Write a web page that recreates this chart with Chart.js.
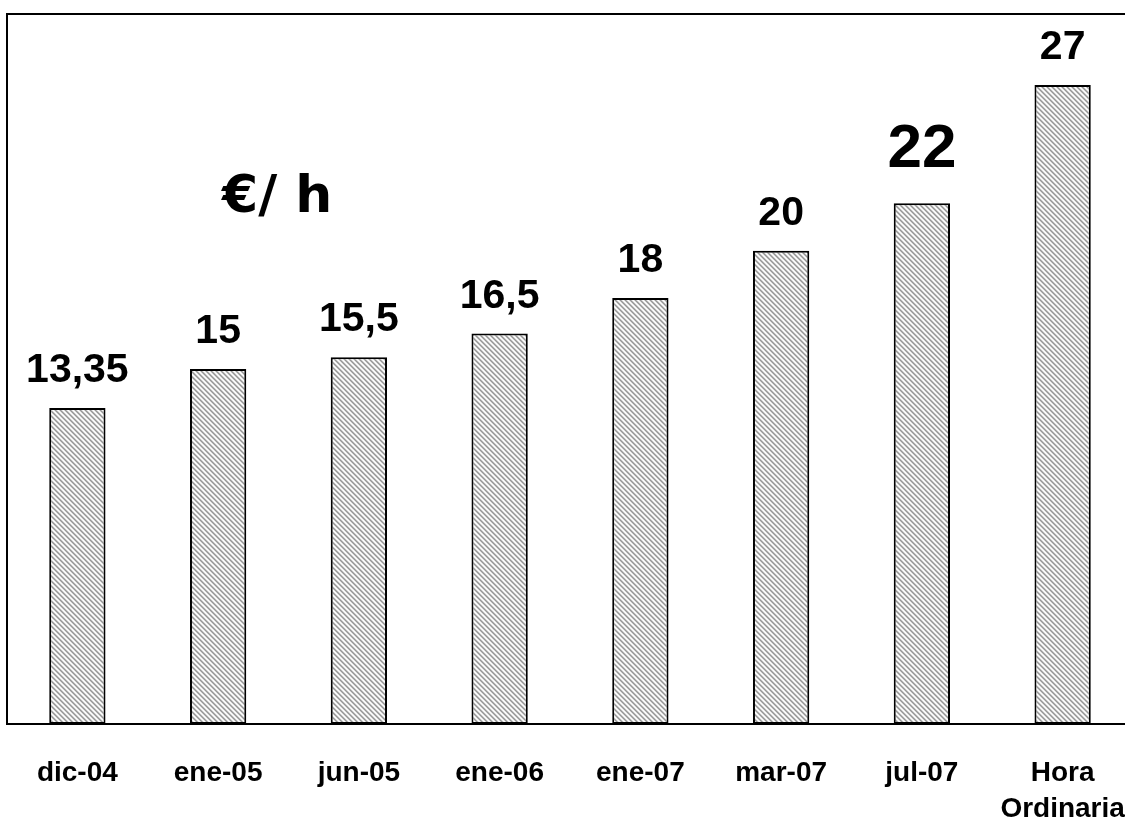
<!DOCTYPE html>
<html>
<head>
<meta charset="utf-8">
<script src="https://cdn.jsdelivr.net/npm/chart.js@4/dist/chart.umd.min.js"></script>
<style>
  html, body { margin: 0; padding: 0; background: #fff; overflow: hidden; }
  #chart { display: block; }
</style>
</head>
<body>
<canvas id="chart" width="1125" height="823"></canvas>
<script>
// --- data ---
var categories = ['dic-04', 'ene-05', 'jun-05', 'ene-06', 'ene-07', 'mar-07', 'jul-07', ['Hora', 'Ordinaria']];
var rates = [13.35, 15, 15.5, 16.5, 18, 20, 22, 27];
var yTicks = [0, 30];
var unitText = '€/ h';
var bigLabelIndex = 6; // the "22" label is drawn larger
var overhangRight = 8;  // plot area continues a bit past the right edge

// diagonal hatch pattern for bar fill
function makeHatch() {
    var c = document.createElement('canvas');
    c.width = 5; c.height = 5;
    var g = c.getContext('2d');
    var img = g.createImageData(5, 5);
    var shades = [150, 180, 240, 255, 210];
    for (var y = 0; y < 5; y++) {
        for (var x = 0; x < 5; x++) {
            var v = shades[(x - y + 10) % 5];
            var i = (y * 5 + x) * 4;
            img.data[i] = v; img.data[i + 1] = v; img.data[i + 2] = v; img.data[i + 3] = 255;
        }
    }
    g.putImageData(img, 0, 0);
    return document.getElementById('chart').getContext('2d').createPattern(c, 'repeat');
}

// stretch the plot area past the canvas edge (chart.js clamps padding at 0)
var overhangPlugin = {
    id: 'overhang',
    afterLayout: function(chart) {
        var a = chart.chartArea;
        a.right = chart.width + overhangRight;
        a.width = a.right - a.left;
        var xs = chart.scales.x;
        xs.right = a.right;
        xs.width = xs.right - xs.left;
        xs.configure();
    }
};

// frame around plot area + unit text
var framePlugin = {
    id: 'frame',
    afterDraw: function(chart) {
        var a = chart.chartArea, ctx = chart.ctx;
        ctx.save();
        ctx.strokeStyle = '#000';
        ctx.lineWidth = 2;
        ctx.strokeRect(a.left, a.top, a.right - a.left, a.bottom - a.top);
        ctx.fillStyle = '#000';
        ctx.font = 'bold 52px "DejaVu Sans", Verdana, sans-serif';
        ctx.textAlign = 'left';
        ctx.textBaseline = 'alphabetic';
        ctx.fillText(unitText, 222, 212);
        ctx.restore();
    }
};

// value labels above bars
var valueLabels = {
    id: 'valueLabels',
    afterDatasetsDraw: function(chart) {
        var ctx = chart.ctx;
        var meta = chart.getDatasetMeta(0);
        ctx.save();
        ctx.fillStyle = '#000';
        ctx.textAlign = 'center';
        ctx.textBaseline = 'alphabetic';
        meta.data.forEach(function(bar, i) {
            var big = (i === bigLabelIndex);
            ctx.font = 'bold ' + (big ? 62 : 41) + 'px "Liberation Sans", Arial, sans-serif';
            var txt = String(rates[i]).replace('.', ',');
            ctx.fillText(txt, bar.x, bar.y - (big ? 36 : 26));
        });
        ctx.restore();
    }
};

var chart = new Chart(document.getElementById('chart'), {
    type: 'bar',
    data: {
        labels: categories,
        datasets: [{
            data: rates,
            backgroundColor: makeHatch(),
            borderColor: '#000',
            borderWidth: 2,
            borderSkipped: false,
            barPercentage: 0.4,
            categoryPercentage: 1
        }]
    },
    options: {
        responsive: false,
        devicePixelRatio: 1,
        animation: false,
        layout: { padding: { top: 14, left: 7, right: 0, bottom: 0 } },
        plugins: { legend: { display: false }, tooltip: { enabled: false } },
        scales: {
            x: {
                grid: { display: false, drawTicks: false },
                border: { display: false },
                ticks: {
                    color: '#000',
                    padding: 31,
                    maxRotation: 0,
                    autoSkip: false,
                    font: { family: '"Liberation Sans", Arial, sans-serif', size: 28, weight: 'bold', lineHeight: 1.3 }
                },
                afterFit: function(scale) {
                    scale.height = 99;
                    // let the last label get clipped instead of shrinking the plot
                    scale.paddingLeft = 0;
                    scale.paddingRight = 0;
                }
            },
            y: {
                display: false,
                min: yTicks[0],
                max: yTicks[1]
            }
        }
    },
    plugins: [overhangPlugin, valueLabels, framePlugin]
});
</script>
</body>
</html>
